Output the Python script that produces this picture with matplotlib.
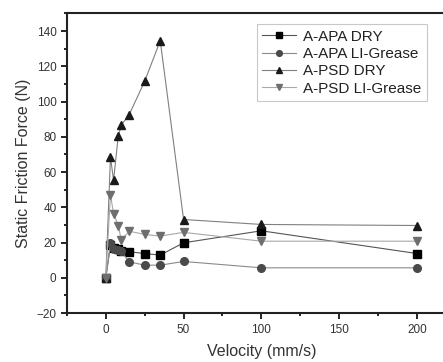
import matplotlib.pyplot as plt
from matplotlib.ticker import MultipleLocator

plt.rcParams['font.family'] = ['Liberation Sans', 'DejaVu Sans']

velocity = [0, 3, 5, 8, 10, 15, 25, 35, 50, 100, 200]
apa_dry = [0, 18.5, 17, 16.5, 15.5, 14.8, 13.8, 12.9, 19.9, 26.7, 13.8]
apa_grease = [0, 19.5, 16.5, 16, 15, 9.1, 7.2, 7.2, 9.3, 5.7, 5.7]
psd_dry = [0, 68.5, 55.3, 80.4, 86.7, 92.5, 111.5, 134.5, 33.1, 30.3, 29.7]
psd_grease = [0, 47, 36.5, 29.7, 21.4, 26.5, 24.6, 23.7, 25.8, 20.8, 20.8]

labels = ['A-APA DRY', 'A-APA LI-Grease', 'A-PSD DRY', 'A-PSD LI-Grease']
series = [apa_dry, apa_grease, psd_dry, psd_grease]
markers = ['s', 'o', '^', 'v']
mcolors = ['#000000', '#4a4a4a', '#1a1a1a', '#6e6e6e']
lcolors = ['#555555', '#8a8a8a', '#808080', '#a8a8a8']

fig = plt.figure(figsize=(4.43, 3.62), dpi=100)
ax = fig.add_axes([0.151, 0.135, 0.878, 0.828])

for ys, lab, m, mc, lc in zip(series, labels, markers, mcolors, lcolors):
    ax.plot(velocity, ys, color=lc, lw=0.8, marker=m, markersize=5.5,
            markerfacecolor=mc, markeredgecolor=mc, label=lab)

ax.set_xlim(-25, 225)
ax.set_ylim(-20, 150)
ax.xaxis.set_major_locator(MultipleLocator(50))
ax.xaxis.set_minor_locator(MultipleLocator(25))
ax.yaxis.set_major_locator(MultipleLocator(20))
ax.yaxis.set_minor_locator(MultipleLocator(10))
ax.set_xticks([0, 50, 100, 150, 200])
ax.tick_params(which='both', direction='out', width=1.2, labelsize=8.5,
               labelcolor='#333333')
ax.tick_params(which='major', length=4)
ax.tick_params(which='minor', length=2.5)
for s in ax.spines.values():
    s.set_linewidth(1.5)
    s.set_color('#222222')

ax.set_xlabel('Velocity (mm/s)', fontsize=11.5, color='#333333', labelpad=6)
ax.set_ylabel('Static Friction Force (N)', fontsize=11.5, color='#333333')

leg = ax.legend(loc='upper left', bbox_to_anchor=(0.488, 0.964), fontsize=11,
                fancybox=False, edgecolor='#bbbbbb', handlelength=2.2,
                handletextpad=0.5, borderpad=0.35, labelspacing=0.22,
                markerscale=0.75, borderaxespad=0)
leg.get_frame().set_linewidth(0.8)
for t in leg.get_texts():
    t.set_color('#222222')

fig.savefig('out.png', dpi=100)
